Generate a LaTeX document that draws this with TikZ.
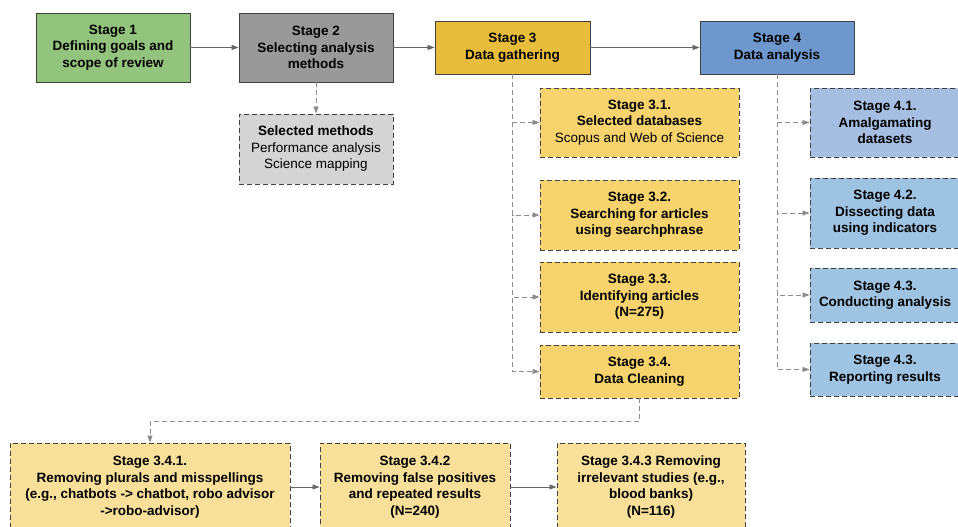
\documentclass[tikz,border=0pt]{standalone}
\usepackage{fontspec}
\setmainfont{Liberation Sans}
\usetikzlibrary{arrows.meta,positioning}
\definecolor{stgreen}{HTML}{93C47D}
\definecolor{stgray}{HTML}{999999}
\definecolor{styellow}{HTML}{E9BD3C}
\definecolor{stblue}{HTML}{6D97CD}
\definecolor{lightgray}{HTML}{D4D4D4}
\definecolor{lightyellow}{HTML}{F6D36D}
\definecolor{paleyellow}{HTML}{F9E09A}
\definecolor{lightblue}{HTML}{A5BEE2}
\definecolor{skyblue}{HTML}{9FC3E3}

\tikzset{
  stagebox/.style={draw=black!75, line width=0.9pt, align=center, inner sep=2pt,
    font=\bfseries\fontsize{13.5}{16.5}\selectfont},
  subbox/.style={stagebox, dash pattern=on 5pt off 3pt},
  flow/.style={draw=black!60, line width=0.8pt, -{Triangle[length=7pt,width=5pt]}},
  branch/.style={flow, draw=black!45, dash pattern=on 5pt off 3pt}
}

\begin{document}
\begin{tikzpicture}[x=1pt,y=-1pt]
\useasboundingbox (0,0) rectangle (958,527);

% main stages
\node[stagebox, fill=stgreen, minimum width=154pt, minimum height=69pt] (s1) at (113,47.5)
  {Stage 1\\Defining goals and\\scope of review};
\node[stagebox, fill=stgray, minimum width=154pt, minimum height=69pt] (s2) at (316,47.5)
  {Stage 2\\Selecting analysis\\methods};
\node[stagebox, fill=styellow, minimum width=155pt, minimum height=53pt] (s3) at (512.5,47.5)
  {Stage 3\\Data gathering};
\node[stagebox, fill=stblue, minimum width=154pt, minimum height=53pt] (s4) at (777,47.5)
  {Stage 4\\Data analysis};

\node[subbox, fill=lightgray, minimum width=154pt, minimum height=70pt] (sel) at (316,149)
  {Selected methods\\\mdseries Performance analysis\\\mdseries Science mapping};

% stage 3 steps
\node[subbox, fill=lightyellow, minimum width=199pt, minimum height=69pt] (s31) at (639.5,122.5)
  {Stage 3.1.\\Selected databases\\\mdseries Scopus and Web of Science};
\node[subbox, fill=lightyellow, minimum width=199pt, minimum height=70pt] (s32) at (639.5,215)
  {Stage 3.2.\\Searching for articles\\using searchphrase};
\node[subbox, fill=lightyellow, minimum width=199pt, minimum height=70pt] (s33) at (639.5,297)
  {Stage 3.3.\\Identifying articles\\(N=275)};
\node[subbox, fill=lightyellow, minimum width=199pt, minimum height=53pt] (s34) at (639.5,371.5)
  {Stage 3.4.\\Data Cleaning};

% stage 4 steps
\node[subbox, fill=lightblue, minimum width=150pt, minimum height=69pt] (s41) at (885,122.5)
  {Stage 4.1.\\Amalgamating\\datasets};
\node[subbox, fill=skyblue, minimum width=150pt, minimum height=70pt] (s42) at (885,213)
  {Stage 4.2.\\Dissecting data\\using indicators};
\node[subbox, fill=skyblue, minimum width=150pt, minimum height=54pt] (s43) at (885,295)
  {Stage 4.3.\\Conducting analysis};
\node[subbox, fill=skyblue, minimum width=150pt, minimum height=53pt] (s44) at (885,369.5)
  {Stage 4.3.\\Reporting results};

% cleaning steps
\node[subbox, fill=paleyellow, minimum width=280pt, minimum height=88pt] (c1) at (150,487)
  {Stage 3.4.1.\\Removing plurals and misspellings\\(e.g., chatbots -> chatbot, robo advisor\\->robo-advisor)};
\node[subbox, fill=paleyellow, minimum width=190pt, minimum height=88pt] (c2) at (415,487)
  {Stage 3.4.2\\Removing false positives\\and repeated results\\(N=240)};
\node[subbox, fill=paleyellow, minimum width=188pt, minimum height=88pt] (c3) at (651,487)
  {Stage 3.4.3 Removing\\irrelevant studies (e.g.,\\blood banks)\\(N=116)};

% connectors
\draw[flow] (s1) -- (s2);
\draw[flow] (s2) -- (s3);
\draw[flow] (s3) -- (s4);
\draw[branch] (s2) -- (sel);
\foreach \t in {s31,s32,s33,s34}
  \draw[branch] (s3.south) |- (\t.west);
\foreach \t in {s41,s42,s43,s44}
  \draw[branch] (s4.south) |- (\t.west);
\draw[branch] (s34.south) -- ++(0,23) -| (c1.north);
\draw[flow] (c1) -- (c2);
\draw[flow] (c2) -- (c3);
\end{tikzpicture}
\end{document}
